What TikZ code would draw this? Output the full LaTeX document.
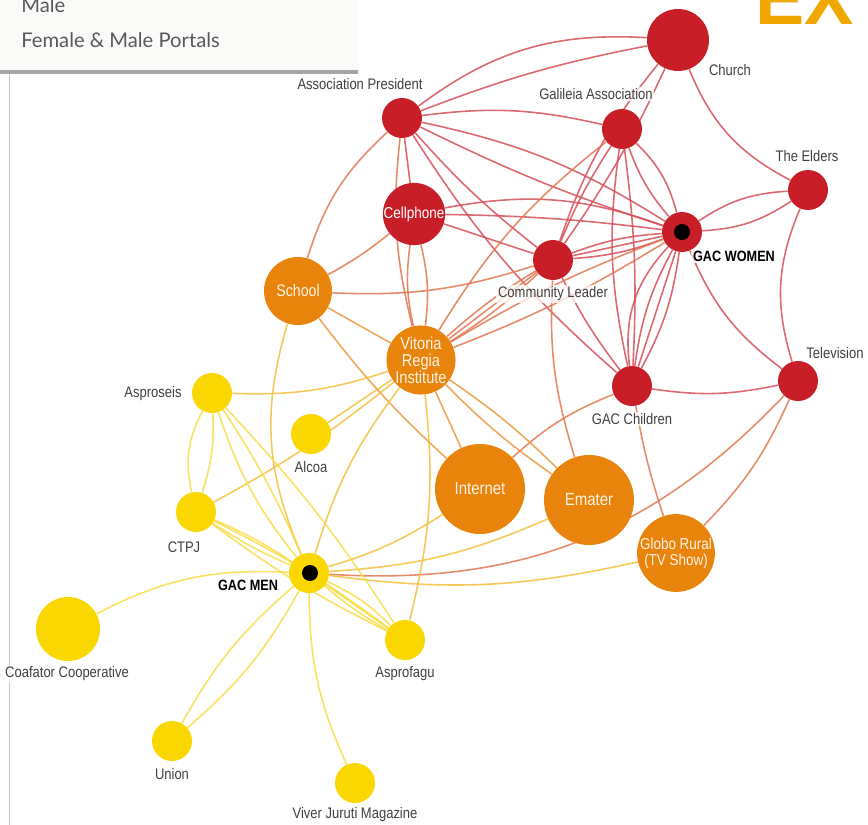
\documentclass[tikz,border=0pt]{standalone}
\usepackage{fontspec}
\setmainfont{Liberation Sans}[FakeStretch=0.85]
\newfontfamily\uifont{Lato}
\newfontfamily\bannerfont{Liberation Sans}
\usetikzlibrary{backgrounds}

\definecolor{gacred}{RGB}{200,30,40}
\definecolor{gacorange}{RGB}{232,132,12}
\definecolor{gacyellow}{RGB}{250,215,0}
\definecolor{redlink}{RGB}{214,78,88}
\definecolor{mixlink}{RGB}{226,118,80}
\definecolor{orlink}{RGB}{236,152,60}
\definecolor{orylink}{RGB}{242,192,60}
\definecolor{yellink}{RGB}{248,220,70}
\definecolor{labelgrey}{RGB}{64,64,64}
\definecolor{legendbg}{RGB}{250,250,249}
\definecolor{legendbar}{RGB}{165,165,165}
\definecolor{bannerorange}{RGB}{240,168,0}

\begin{document}
\begin{tikzpicture}[
    x=0.2mm, y=-0.2mm,
    actor/.style={circle, inner sep=0pt, minimum size=8mm, align=center, text=white,
                  font=\fontsize{9}{9.5}\selectfont},
    female/.style={actor, fill=gacred},
    portal/.style={actor, fill=gacorange, text=orange!10},
    male/.style={actor, fill=gacyellow},
    hubdot/.style={circle, fill=black, inner sep=0pt, minimum size=3.2mm},
    lbl/.style={text=labelgrey, inner sep=1pt, fill=white, fill opacity=0.75, text opacity=1,
                font=\fontsize{8.7}{10}\selectfont},
    hublbl/.style={lbl, text=black, font=\fontsize{8.5}{10}\selectfont\bfseries},
    link/.style={line width=0.9pt, opacity=0.85},
    rlink/.style={link, redlink},
    mlink/.style={link, mixlink},
    olink/.style={link, orlink},
    oylink/.style={link, orylink},
    ylink/.style={link, yellink}
]
\useasboundingbox (0,0) rectangle (868,825);

% page furniture
\fill[legendbg] (0,0) rectangle (358,71);
\fill[legendbar] (0,70) rectangle (358,74);
\draw[black!22, line width=0.2mm] (9,74) -- (9,825);
\node[anchor=base west, inner sep=0pt, text=black!65, font=\uifont\fontsize{11.5}{13}\selectfont] (leg_male) at (21,12) {Male};
\node[anchor=west, inner sep=0pt, text=black!65, font=\uifont\fontsize{11.5}{13}\selectfont] (leg_portals) at (21,40) {Female \& Male Portals};
\node[anchor=base west, inner sep=0pt, text=bannerorange, font=\bannerfont\fontsize{42}{42}\selectfont\bfseries] (banner) at (755,24) {EX};

% Female network
\node[female] (assoc) at (402,118) {};
\node[female] (galileia) at (622,129) {};
\node[female, minimum size=12.4mm] (church) at (678,40) {};
\node[female] (elders) at (808,190) {};
\node[female, minimum size=12.4mm] (cell) at (414,214) {Cellphone};
\node[female] (gacw) at (682,232) {};
\node[female] (leader) at (553,260) {};
\node[female] (gacc) at (632,386) {};
\node[female] (tv) at (798,381) {};

% Portals
\node[portal, minimum size=13.6mm, font=\fontsize{9.5}{10}\selectfont] (school) at (298,291) {School};
\node[portal, minimum size=13.4mm, font=\fontsize{9.8}{9.6}\selectfont] (vri) at (421,360) {Vitoria\\Regia\\Institute};
\node[portal, minimum size=18mm, font=\fontsize{10}{11}\selectfont] (internet) at (480,489) {Internet};
\node[portal, minimum size=18mm, font=\fontsize{10}{11}\selectfont] (emater) at (589,500) {Emater};
\node[portal, minimum size=13.6mm, font=\fontsize{9}{9}\selectfont] (globo) at (676,553) {Globo Rural\\(TV Show)};

% Male network
\node[male] (asproseis) at (212,393) {};
\node[male] (alcoa) at (311,434) {};
\node[male] (ctpj) at (196,512) {};
\node[male] (gacm) at (309,573) {};
\node[male, minimum size=12.8mm] (coafator) at (68,629) {};
\node[male] (asprofagu) at (405,640) {};
\node[male] (union) at (172,741) {};
\node[male] (viver) at (355,783) {};

\node[hubdot] (gacw_dot) at (682,232) {};
\node[hubdot] (gacm_dot) at (310,573) {};

% Relationships
\begin{scope}[on background layer]
\draw[rlink] (assoc) to[bend left=20] (church);
\draw[rlink] (assoc) to[bend left=5] (church);
\draw[rlink] (assoc) to[bend left=10] (galileia);
\draw[rlink] (assoc) to[bend left=10] (gacw);
\draw[rlink] (assoc) to[bend right=4] (gacw);
\draw[rlink] (assoc) to[bend right=5] (leader);
\draw[rlink] (assoc) -- (cell);
\draw[rlink] (assoc) to[bend right=8] (gacc);
\draw[rlink] (galileia) to[bend left=15] (gacw);
\draw[rlink] (galileia) to[bend right=10] (gacw);
\draw[rlink] (galileia) to[bend right=5] (leader);
\draw[rlink] (galileia) to[bend right=10] (gacc);
\draw[rlink] (galileia) to[bend left=5] (gacc);
\draw[rlink] (leader) to[bend left=10] (church);
\draw[rlink] (leader) to[bend right=5] (church);
\draw[rlink] (cell) to[bend left=15] (gacw);
\draw[rlink] (cell) to[bend left=3] (gacw);
\draw[rlink] (cell) -- (leader);
\draw[rlink] (gacw) to[bend left=8] (leader);
\draw[rlink] (gacw) to[bend right=8] (leader);
\draw[rlink] (gacw) -- (leader);
\draw[rlink] (gacw) to[bend left=10] (gacc);
\draw[rlink] (gacw) to[bend right=10] (gacc);
\draw[rlink] (gacw) to[bend right=25] (gacc);
\draw[rlink] (gacw) -- (gacc);
\draw[rlink] (gacw) to[bend right=15] (tv);
\draw[rlink] (gacw) to[bend left=15] (elders);
\draw[rlink] (gacw) to[bend right=15] (elders);
\draw[rlink] (church) to[bend right=20] (elders);
\draw[rlink] (elders) to[bend right=20] (tv);
\draw[rlink] (gacc) to[bend right=10] (tv);
\draw[rlink] (gacc) to[bend left=5] (leader);

% Portal relationships
\draw[mlink] (assoc) to[bend right=15] (school);
\draw[mlink] (assoc) to[bend right=10] (vri);
\draw[mlink] (galileia) to[bend right=10] (vri);
\draw[mlink] (cell) to[bend left=5] (school);
\draw[mlink] (cell) to[bend left=10] (vri);
\draw[mlink] (cell) to[bend right=10] (vri);
\draw[mlink] (school) to[bend right=10] (leader);
\draw[mlink] (vri) to[bend left=5] (leader);
\draw[mlink] (vri) to[bend right=5] (leader);
\draw[mlink] (vri) -- (leader);
\draw[mlink] (vri) to[bend left=5] (gacw);
\draw[mlink] (vri) to[bend right=5] (gacw);
\draw[mlink] (gacc) to[bend right=4] (globo);
\draw[mlink] (gacc) to[bend right=10] (internet);
\draw[mlink] (tv) to[bend left=10] (globo);
\draw[mlink] (tv) to[bend left=25] (gacm);
\draw[mlink] (emater) to[bend left=10] (leader);
\draw[olink] (school) -- (vri);
\draw[olink] (school) to[bend right=5] (internet);
\draw[olink] (vri) -- (internet);
\draw[olink] (vri) to[bend left=5] (emater);
\draw[olink] (vri) to[bend right=5] (emater);
\draw[oylink] (school) to[bend right=20] (gacm);
\draw[oylink] (vri) to[bend left=10] (asproseis);
\draw[oylink] (vri) -- (alcoa);
\draw[oylink] (vri) to[bend left=5] (ctpj);
\draw[oylink] (vri) to[bend right=10] (gacm);
\draw[oylink] (vri) to[bend left=10] (asprofagu);
\draw[oylink] (internet) to[bend left=8] (gacm);
\draw[oylink] (emater) to[bend left=10] (gacm);
\draw[oylink] (globo) to[bend left=10] (gacm);

% Male relationships
\draw[ylink] (asproseis) to[bend right=20] (ctpj);
\draw[ylink] (asproseis) to[bend left=10] (ctpj);
\draw[ylink] (asproseis) to[bend left=5] (gacm);
\draw[ylink] (asproseis) to[bend right=10] (gacm);
\draw[ylink] (asproseis) to[bend left=5] (asprofagu);
\draw[ylink] (ctpj) to[bend left=5] (gacm);
\draw[ylink] (ctpj) to[bend right=5] (gacm);
\draw[ylink] (ctpj) to[bend left=5] (asprofagu);
\draw[ylink] (ctpj) to[bend right=5] (asprofagu);
\draw[ylink] (gacm) to[bend right=15] (coafator);
\draw[ylink] (gacm) to[bend left=10] (union);
\draw[ylink] (gacm) to[bend right=10] (union);
\draw[ylink] (gacm) to[bend right=12] (viver);
\draw[ylink] (gacm) to[bend left=10] (asprofagu);
\draw[ylink] (gacm) to[bend right=5] (asprofagu);
\draw[ylink] (gacm) -- (asprofagu);
\end{scope}

% Labels
\node[lbl] (assoc_lbl) at (360,84) {Association President};
\node[lbl] (galileia_lbl) at (596,94) {Galileia Association};
\node[lbl] (church_lbl) at (730,70) {Church};
\node[lbl] (elders_lbl) at (807,156) {The Elders};
\node[hublbl] (gacw_lbl) at (734,256) {GAC WOMEN};
\node[lbl] (leader_lbl) at (553,294) {Community Leader};
\node[lbl] (gacc_lbl) at (632,419) {GAC Children};
\node[lbl] (tv_lbl) at (835,353) {Television};
\node[lbl] (asproseis_lbl) at (153,394) {Asproseis};
\node[lbl] (alcoa_lbl) at (311,467) {Alcoa};
\node[lbl] (ctpj_lbl) at (184,547) {CTPJ};
\node[hublbl] (gacm_lbl) at (248,585) {GAC MEN};
\node[lbl] (coafator_lbl) at (67,674) {Coafator Cooperative};
\node[lbl] (asprofagu_lbl) at (405,674) {Asprofagu};
\node[lbl] (union_lbl) at (172,774) {Union};
\node[lbl] (viver_lbl) at (355,815) {Viver Juruti Magazine};

\end{tikzpicture}
\end{document}
